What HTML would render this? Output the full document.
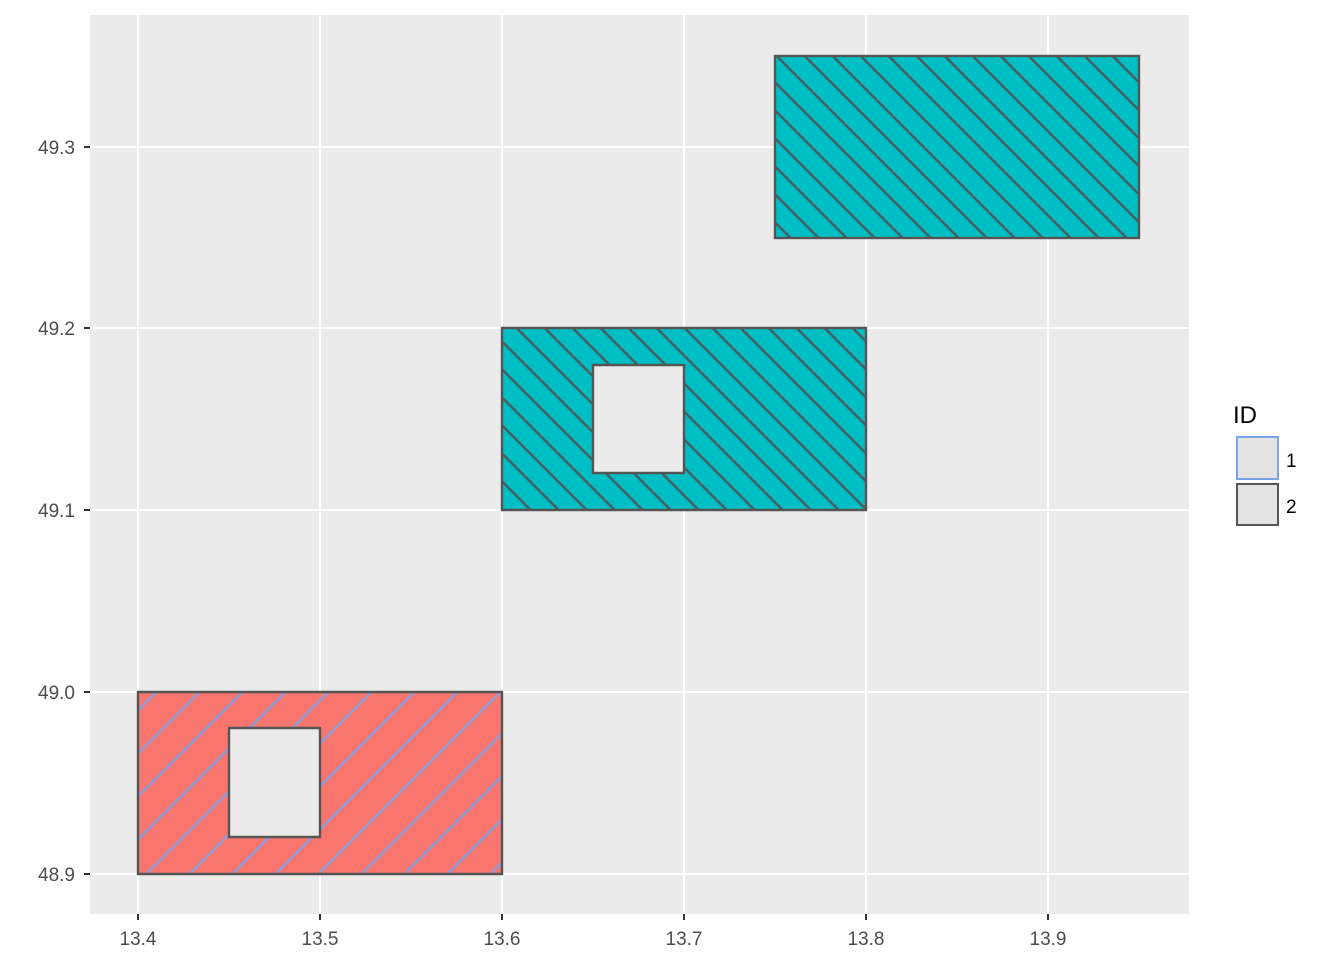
<!DOCTYPE html>
<html><head><style>body{margin:0;background:#fff}</style></head><body>
<svg width="1344" height="960" xmlns="http://www.w3.org/2000/svg" font-family="Liberation Sans, sans-serif">
<defs>
<pattern id="pr" patternUnits="userSpaceOnUse" width="30.4" height="30.4" patternTransform="rotate(45 138 874)" x="138" y="874">
<rect width="30.4" height="30.4" fill="#F8766D"/><line x1="6" y1="-5" x2="6" y2="40" stroke="#8a9fdc" stroke-width="2.4"/></pattern>
<pattern id="pc" patternUnits="userSpaceOnUse" width="19.8" height="19.8" patternTransform="rotate(-45 775 56)">
<rect width="19.8" height="19.8" fill="#00BFC4"/><line x1="4" y1="-5" x2="4" y2="30" stroke="#4a5a5e" stroke-width="2.4"/></pattern>
</defs>
<rect x="90" y="15" width="1099" height="899" fill="#EBEBEB"/>
<g stroke="#fff" stroke-width="2">
<line x1="138" y1="15" x2="138" y2="914"/><line x1="320" y1="15" x2="320" y2="914"/><line x1="502" y1="15" x2="502" y2="914"/><line x1="684" y1="15" x2="684" y2="914"/><line x1="866" y1="15" x2="866" y2="914"/><line x1="1048" y1="15" x2="1048" y2="914"/>
<line x1="90" y1="147" x2="1189" y2="147"/><line x1="90" y1="328" x2="1189" y2="328"/><line x1="90" y1="510" x2="1189" y2="510"/><line x1="90" y1="692" x2="1189" y2="692"/><line x1="90" y1="874" x2="1189" y2="874"/>
</g>
<g stroke="#555" stroke-width="2.4">
<path d="M138 692H502V874H138Z M229 728V837H320V728Z" fill="url(#pr)" fill-rule="evenodd"/>
<path d="M502 328H866V510H502Z M593 365V473H684V365Z" fill="url(#pc)" fill-rule="evenodd"/>
<rect x="775" y="56" width="364" height="182" fill="url(#pc)"/>
</g>
<g stroke="#333" stroke-width="2">
<line x1="138" y1="914" x2="138" y2="920"/><line x1="320" y1="914" x2="320" y2="920"/><line x1="502" y1="914" x2="502" y2="920"/><line x1="684" y1="914" x2="684" y2="920"/><line x1="866" y1="914" x2="866" y2="920"/><line x1="1048" y1="914" x2="1048" y2="920"/>
<line x1="84" y1="147" x2="90" y2="147"/><line x1="84" y1="328" x2="90" y2="328"/><line x1="84" y1="510" x2="90" y2="510"/><line x1="84" y1="692" x2="90" y2="692"/><line x1="84" y1="874" x2="90" y2="874"/>
</g>
<g font-size="19" fill="#4d4d4d" text-anchor="middle">
<text x="138" y="945">13.4</text><text x="320" y="945">13.5</text><text x="502" y="945">13.6</text><text x="684" y="945">13.7</text><text x="866" y="945">13.8</text><text x="1048" y="945">13.9</text>
</g>
<g font-size="19" fill="#4d4d4d" text-anchor="end">
<text x="75" y="154">49.3</text><text x="75" y="335">49.2</text><text x="75" y="517">49.1</text><text x="75" y="699">49.0</text><text x="75" y="881">48.9</text>
</g>
<text x="1233" y="423" font-size="24" fill="#000">ID</text>
<rect x="1237" y="437" width="41" height="42" fill="#e3e3e3" stroke="#7aa3e5" stroke-width="2"/>
<rect x="1237" y="484" width="41" height="41" fill="#e3e3e3" stroke="#555" stroke-width="2"/>
<text x="1286" y="467" font-size="19">1</text>
<text x="1286" y="513" font-size="19">2</text>
</svg>
</body></html>
